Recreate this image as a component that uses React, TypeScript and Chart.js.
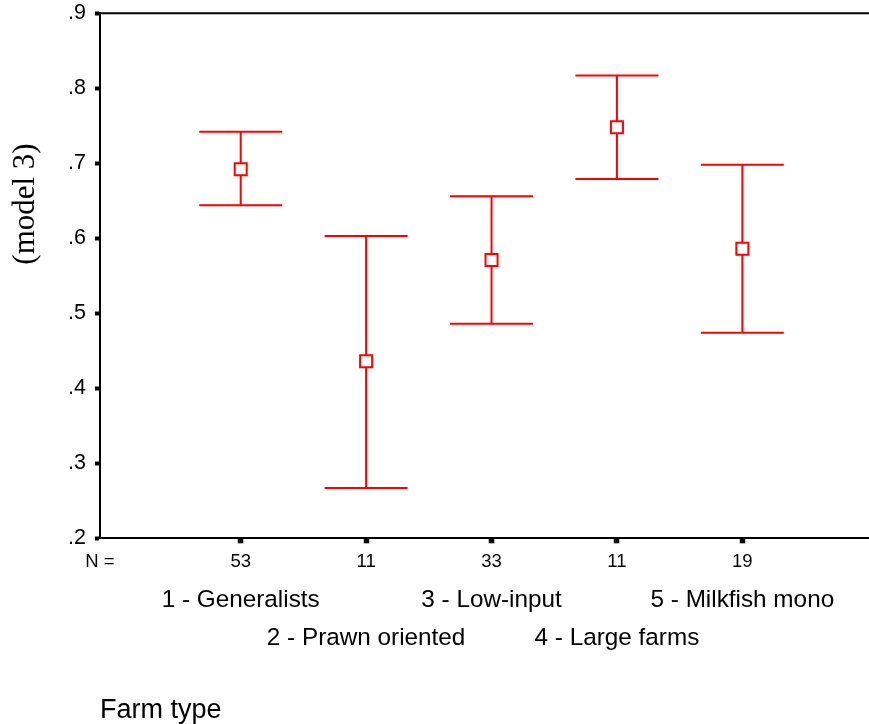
import React, { useEffect, useRef } from 'react';
import { Chart, registerables } from 'chart.js';

Chart.register(...registerables);

// ---- data ----
const categories = ['1 - Generalists', '2 - Prawn oriented', '3 - Low-input', '4 - Large farms', '5 - Milkfish mono'];
const counts = [53, 11, 33, 11, 19];
const means = [0.692, 0.436, 0.571, 0.748, 0.586];
const upper = [0.742, 0.603, 0.656, 0.817, 0.698];
const lower = [0.644, 0.267, 0.486, 0.679, 0.474];
const yTicks = [0.2, 0.3, 0.4, 0.5, 0.6, 0.7, 0.8, 0.9];
const nLabel = 'N =';
const yTitle = '(model 3)';
const xTitle = 'Farm type';

const X_MIN = -1.122;
const X_MAX = 5.01;
const RED = '#ff0000';
const SANS = '"Liberation Sans", Arial, sans-serif';
const SERIF = '"Liberation Serif", "Times New Roman", serif';

const xTickValues = [X_MIN, ...categories.map((_, i) => i)];

const zeroPad = (s: any) => {
  s.paddingLeft = 0;
  s.paddingRight = 0;
  s.paddingTop = 0;
  s.paddingBottom = 0;
};

const framePlugin = {
  id: 'frameAndTitle',
  afterDraw(chart: any) {
    const { ctx, chartArea } = chart;
    ctx.save();
    ctx.strokeStyle = '#000';
    ctx.lineWidth = 2;
    ctx.beginPath();
    ctx.moveTo(chartArea.left, chartArea.top);
    ctx.lineTo(chartArea.right, chartArea.top);
    ctx.stroke();
    ctx.translate(26, 204);
    ctx.rotate(-Math.PI / 2);
    ctx.font = `31px ${SERIF}`;
    ctx.textAlign = 'center';
    ctx.textBaseline = 'middle';
    ctx.fillStyle = '#000';
    ctx.fillText(yTitle, 0, 0);
    ctx.restore();
  },
};

export default function App() {
  const ref = useRef<HTMLCanvasElement>(null);
  useEffect(() => {
    const whiskerData: any[] = [];
    categories.forEach((_, i) => {
      whiskerData.push({ x: i, y: lower[i] }, { x: i, y: upper[i] }, { x: i, y: null });
    });
    const capData = categories.flatMap((_, i) => [
      { x: i, y: upper[i] },
      { x: i, y: lower[i] },
    ]);
    const meanData = categories.map((_, i) => ({ x: i, y: means[i] }));

    const chart = new Chart(ref.current!, {
      type: 'scatter',
      data: {
        datasets: [
          {
            label: 'mean',
            data: meanData,
            pointStyle: 'rect',
            pointRadius: 8.5,
            pointHoverRadius: 8.5,
            backgroundColor: '#ffffff',
            borderColor: RED,
            borderWidth: 2,
            order: 0,
          } as any,
          {
            label: 'caps',
            data: capData,
            pointStyle: 'line',
            pointRadius: 41.5,
            pointHoverRadius: 41.5,
            borderColor: RED,
            backgroundColor: RED,
            borderWidth: 2,
            order: 1,
          } as any,
          {
            label: 'whiskers',
            data: whiskerData,
            showLine: true,
            spanGaps: false,
            pointRadius: 0,
            borderColor: RED,
            borderWidth: 2,
            order: 2,
          } as any,
        ],
      },
      options: {
        responsive: false,
        animation: false,
        events: [],
        layout: { autoPadding: false, padding: { top: 13.3, left: 0, right: 0, bottom: 0 } },
        plugins: {
          legend: { display: false },
          tooltip: { enabled: false },
        },
        scales: {
          y: {
            type: 'linear',
            min: 0.2,
            max: 0.9,
            afterBuildTicks: (s: any) => {
              s.ticks = yTicks.map((v) => ({ value: v }));
            },
            afterFit: (s: any) => {
              s.width = 100;
              zeroPad(s);
            },
            ticks: {
              callback: (v: any) => Number(v).toFixed(1).replace(/^0/, ''),
              font: { family: SANS, size: 21.5 },
              color: '#000',
              padding: 9,
            },
            grid: {
              display: true,
              drawOnChartArea: false,
              drawTicks: true,
              tickLength: 5,
              tickWidth: 4,
              tickColor: '#000',
            },
            border: { display: true, color: '#000', width: 2 },
          },
          x: {
            type: 'linear',
            position: 'bottom',
            weight: 0,
            min: X_MIN,
            max: X_MAX,
            afterBuildTicks: (s: any) => {
              s.ticks = xTickValues.map((v) => ({ value: v }));
            },
            afterFit: (s: any) => {
              s.height = 30;
              zeroPad(s);
            },
            ticks: {
              autoSkip: false,
              maxRotation: 0,
              minRotation: 0,
              callback: (_v: any, i: number) => (i === 0 ? nLabel : String(counts[i - 1])),
              font: { family: SANS, size: 18.5 },
              color: '#000',
              padding: 8,
            },
            grid: {
              display: true,
              drawOnChartArea: false,
              drawTicks: true,
              tickLength: 5,
              tickWidth: 5.5,
              tickColor: (c: any) => (c.index === 0 ? 'rgba(0,0,0,0)' : '#000'),
            },
            border: { display: true, color: '#000', width: 2 },
          },
          x2: {
            type: 'linear',
            position: 'bottom',
            weight: 1,
            min: X_MIN,
            max: X_MAX,
            afterBuildTicks: (s: any) => {
              s.ticks = xTickValues.map((v) => ({ value: v }));
            },
            afterFit: (s: any) => {
              s.height = 155.7;
              zeroPad(s);
            },
            ticks: {
              autoSkip: false,
              maxRotation: 0,
              minRotation: 0,
              callback: (_v: any, i: number) => {
                if (i === 0) return '';
                const idx = i - 1;
                return idx % 2 === 0 ? [categories[idx]] : ['', categories[idx]];
              },
              font: { family: SANS, size: 24.3, lineHeight: '38px' },
              color: '#000',
              padding: 4.7,
            },
            grid: { display: false },
            border: { display: false },
            title: {
              display: true,
              text: xTitle,
              align: 'start',
              font: { family: SANS, size: 27, lineHeight: 1.0 },
              color: '#000',
              padding: { top: 0, bottom: 0.1 },
            },
          },
        },
      } as any,
      plugins: [framePlugin],
    });
    return () => chart.destroy();
  }, []);

  return (
    <div style={{ position: 'fixed', left: 0, top: 0, width: 869, height: 724, background: '#fff' }}>
      <canvas ref={ref} width={869} height={724} style={{ display: 'block' }} />
    </div>
  );
}
